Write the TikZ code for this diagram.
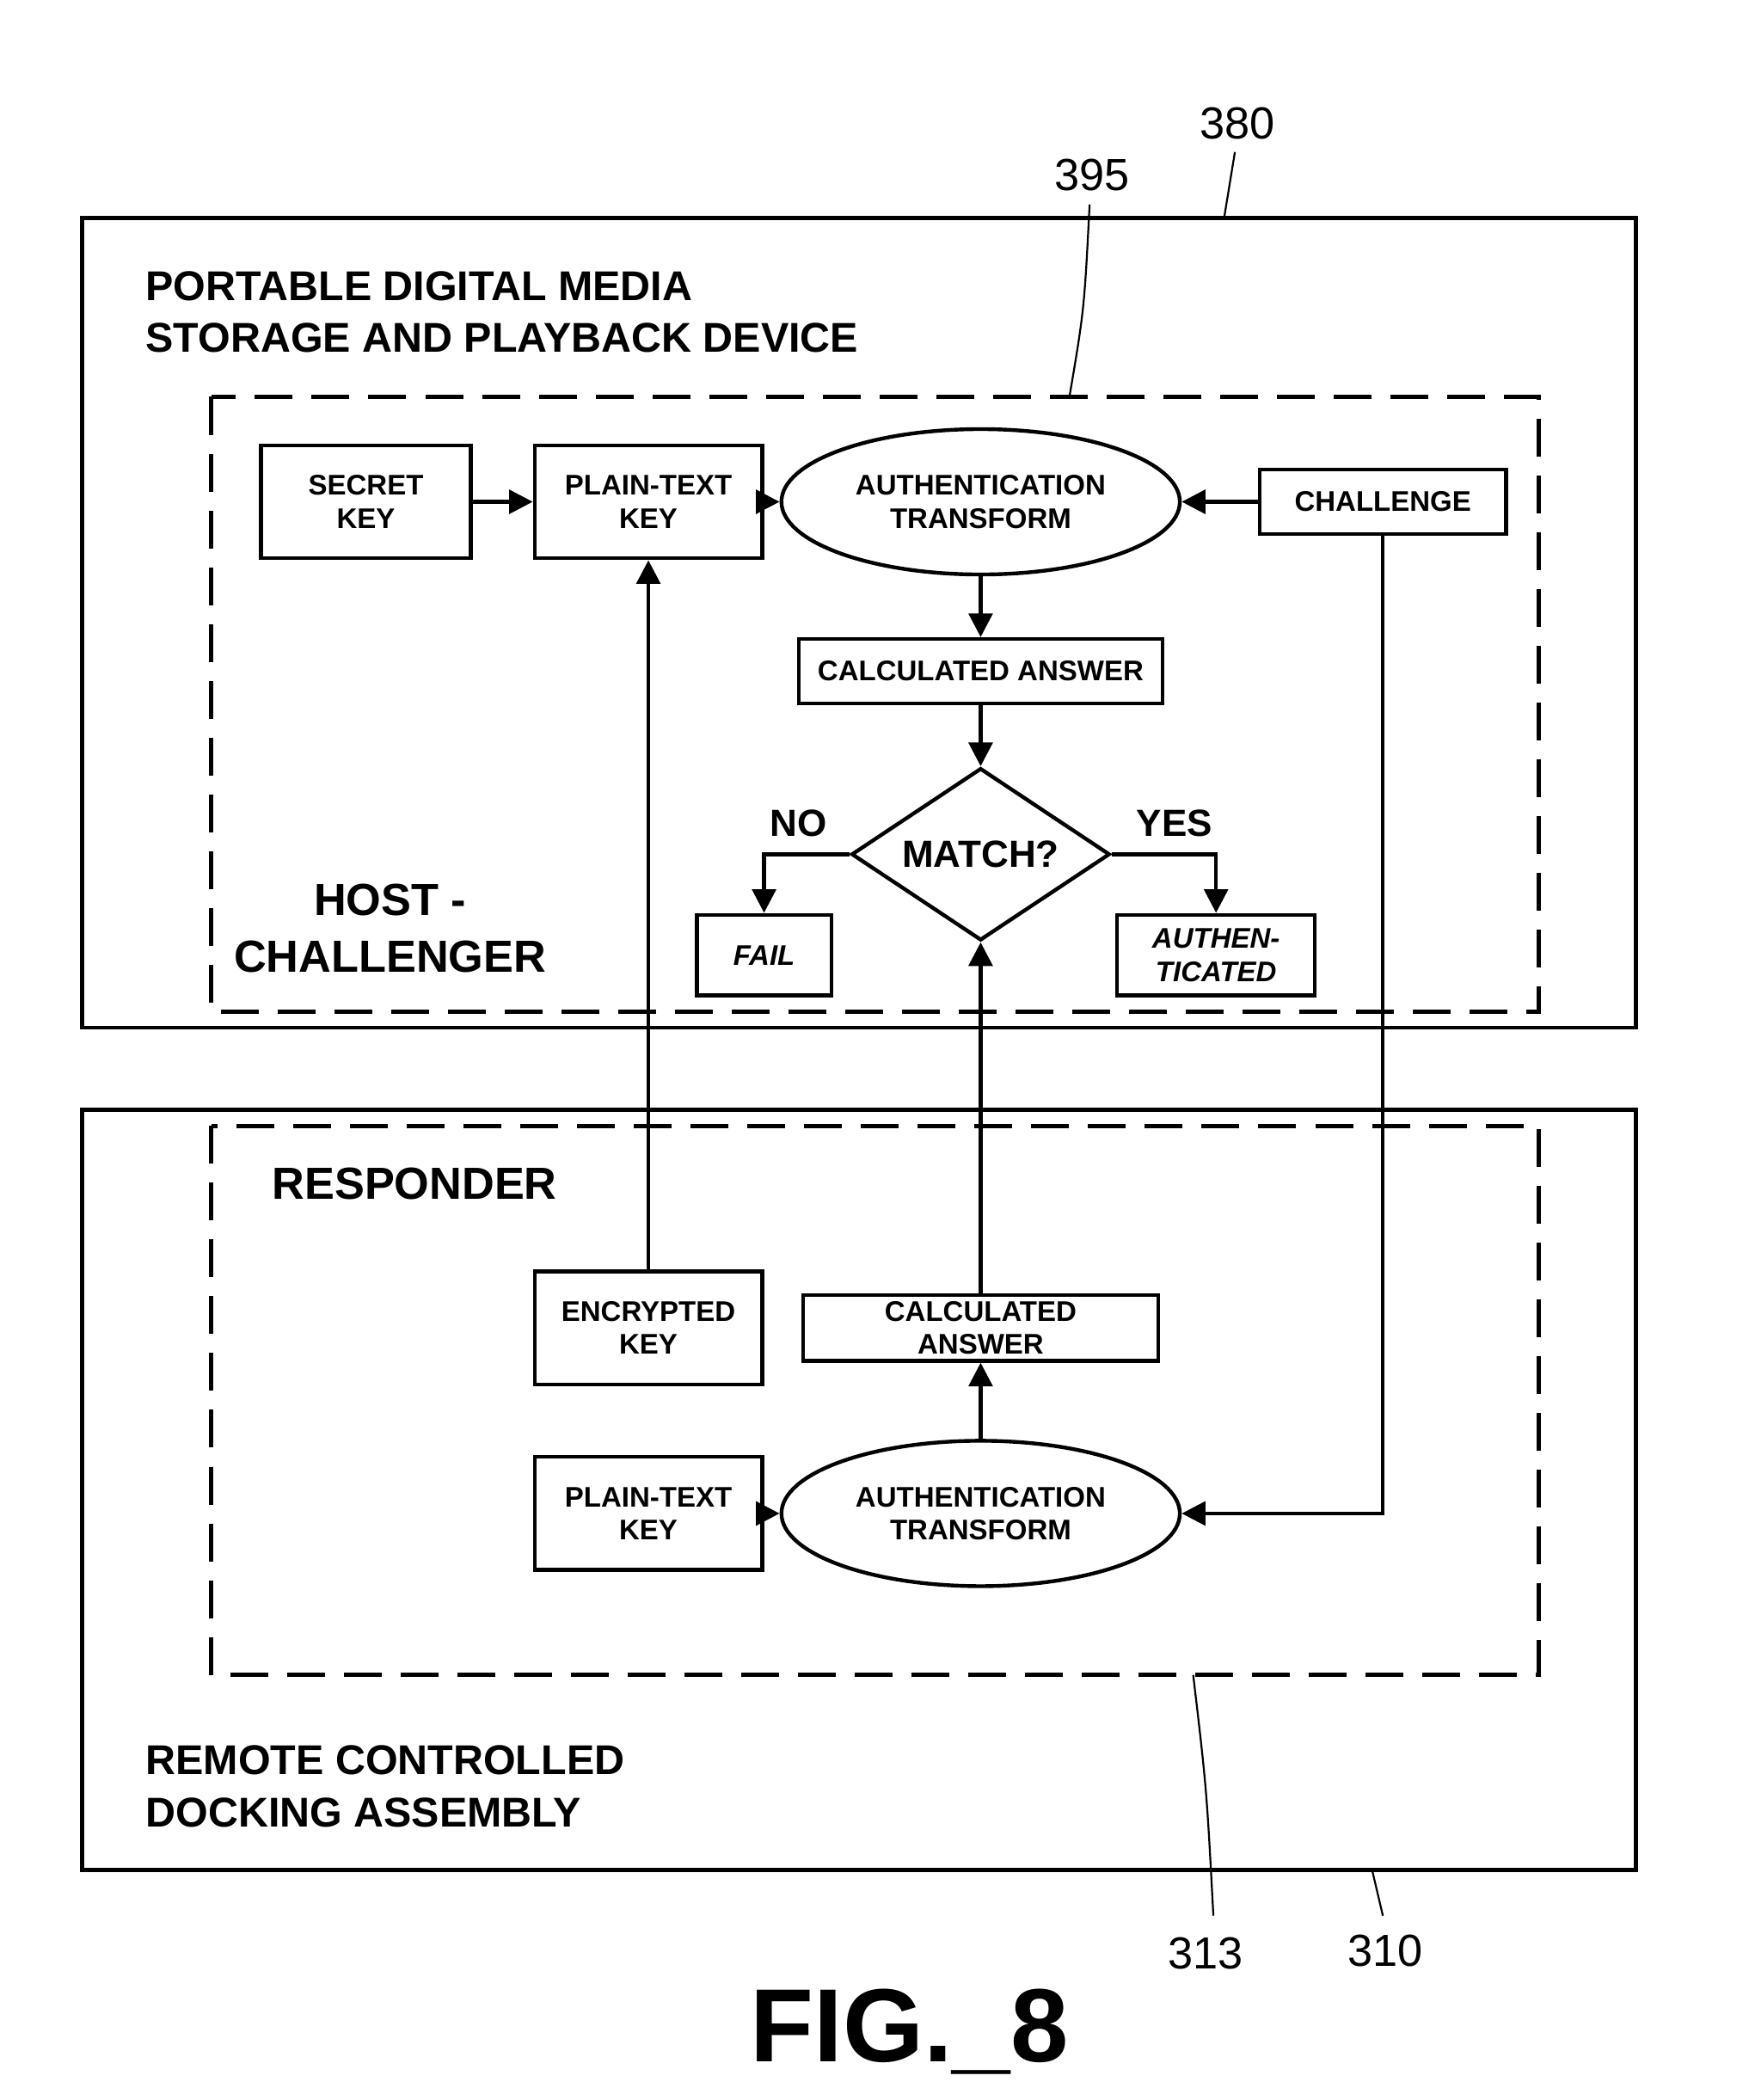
\documentclass[tikz,border=0pt]{standalone}
\usepackage{fontspec}
\setmainfont{Liberation Sans}
\usetikzlibrary{shapes.geometric,arrows.meta}

\tikzset{
    blk/.style={draw, thick, align=center, font=\fontsize{6}{7}\selectfont\bfseries, inner sep=0pt},
    ell/.style={draw, thick, ellipse, align=center, minimum width=2.54cm, minimum height=1.08cm, font=\fontsize{6}{7}\selectfont\bfseries},
    flow/.style={thick, -{Triangle[length=5pt,width=5pt]}},
    ttl/.style={font=\fontsize{8.8}{11}\selectfont\bfseries, align=left, anchor=west},
    num/.style={font=\fontsize{9.5}{11}\selectfont},
    frame/.style={thick},
    zone/.style={thick, dash pattern=on 8pt off 4pt}
}

\begin{document}
\begin{tikzpicture}[x=0.01cm,y=-0.01cm]
        \useasboundingbox (0,0) rectangle (1300,1561);

        % outer frames
        \draw[frame] (61,162) rectangle (1216,764);
        \draw[zone]  (157,295) rectangle (1144,752);
        \draw[frame] (61,825) rectangle (1216,1390);
        \draw[zone]  (157,837) rectangle (1144,1245);

        % host side
        \node[blk, minimum width=1.56cm, minimum height=0.84cm] (secret) at (272,373) {SECRET\\KEY};
        \node[blk, minimum width=1.69cm, minimum height=0.84cm] (plain) at (482,373) {PLAIN-TEXT\\KEY};
        \node[ell] (auth) at (729,373) {AUTHENTICATION\\TRANSFORM};
        \node[blk, minimum width=1.83cm, minimum height=0.48cm] (chal) at (1028,373) {CHALLENGE};
        \node[blk, minimum width=2.70cm, minimum height=0.48cm] (calc) at (729,499) {CALCULATED ANSWER};
        \node[draw, thick, diamond, aspect=1.5, minimum width=1.92cm, minimum height=1.28cm, inner sep=0pt,
              font=\fontsize{8}{9}\selectfont\bfseries] (match) at (729,635) {MATCH?};
        \node[blk, minimum width=1.00cm, minimum height=0.60cm] (fail) at (568,710) {\itshape FAIL};
        \node[blk, minimum width=1.47cm, minimum height=0.60cm] (ok) at (904,710) {\itshape AUTHEN-\\\itshape TICATED};

        % responder side
        \node[blk, minimum width=1.69cm, minimum height=0.84cm] (enc) at (482,987) {ENCRYPTED\\KEY};
        \node[blk, minimum width=2.64cm, minimum height=0.49cm] (calcb) at (729,987) {CALCULATED\\ANSWER};
        \node[blk, minimum width=1.69cm, minimum height=0.84cm] (plainb) at (482,1125) {PLAIN-TEXT\\KEY};
        \node[ell] (authb) at (729,1125) {AUTHENTICATION\\TRANSFORM};

        % connectors
        \draw[flow] (secret) -- (plain);
        \draw[flow] (plain) -- (auth);
        \draw[flow] (chal) -- (auth);
        \draw[flow] (auth) -- (calc);
        \draw[flow] (calc) -- (match);
        \draw[flow] (match.west) -| node[pos=0.3, above, font=\fontsize{8}{9}\selectfont\bfseries] {NO} (fail.north);
        \draw[flow] (match.east) -| node[pos=0.3, above, font=\fontsize{8}{9}\selectfont\bfseries] {YES} (ok.north);
        \draw[flow] (enc) -- (plain);
        \draw[flow] (calcb) -- (match.south);
        \draw[flow] (authb) -- (calcb);
        \draw[flow] (plainb) -- (authb);
        \draw[flow] (chal.south) |- (authb.east);

        % titles
        \node[ttl] (ttlhost) at (96,232) {PORTABLE DIGITAL MEDIA\\STORAGE AND PLAYBACK DEVICE};
        \node[ttl, align=center, anchor=center, font=\fontsize{9.5}{12}\selectfont\bfseries] (hostlbl) at (290,690) {HOST -\\CHALLENGER};
        \node[ttl, font=\fontsize{9.5}{12}\selectfont\bfseries] (resp) at (190,880) {RESPONDER};
        \node[ttl] (ttldock) at (96,1328) {REMOTE CONTROLLED\\DOCKING ASSEMBLY};

        % reference numerals
        \node[num] (n380) at (920,92) {380};
        \node[num] (n395) at (812,130) {395};
        \node[num] (n313) at (896,1452) {313};
        \node[num] (n310) at (1030,1450) {310};
        \draw (918,113) -- (910,162);
        \draw (810,152) .. controls (806,230) .. (795,295);
        \draw (887,1245) .. controls (897,1330) .. (902,1424);
        \draw (1020,1390) -- (1028,1424);
        \node[font=\fontsize{22}{24}\selectfont\bfseries] (fig) at (676,1510) {FIG.\_8};
\end{tikzpicture}
\end{document}
